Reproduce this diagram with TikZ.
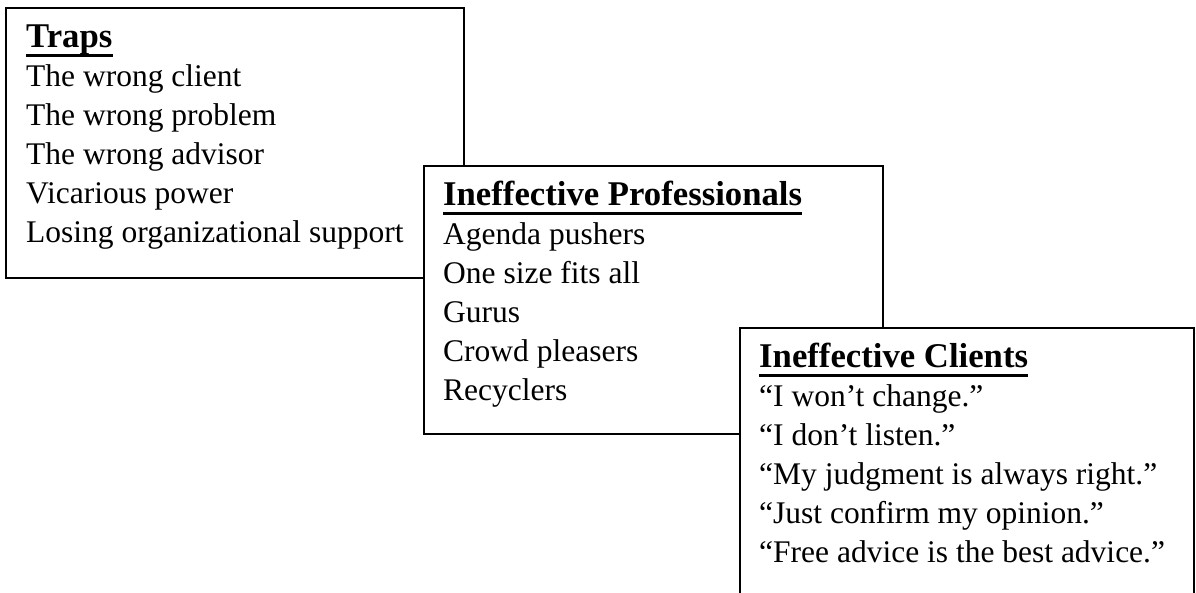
\documentclass[tikz,border=0pt]{standalone}
\usepackage{fontspec}
\setmainfont{Liberation Serif}
\begin{document}
\begin{tikzpicture}[x=1pt,y=-1pt,
  box/.style={draw=black,line width=1.6pt,fill=white,inner sep=0pt,anchor=north west},
  head/.style={inner sep=0pt,anchor=base west,font=\fontsize{34.7}{40}\selectfont\bfseries},
  item/.style={inner sep=0pt,anchor=base west,font=\fontsize{31.5}{39}\selectfont},
  uline/.style={line width=3pt}]
\useasboundingbox (0,0) rectangle (1196,592);
\clip (0,0) rectangle (1196,592);
\node[box,minimum width=458pt,minimum height=270pt] (b1) at (5,7) {};
\node[box,minimum width=459pt,minimum height=268pt] (b2) at (423,165) {};
\node[box,minimum width=454pt,minimum height=280pt] (b3) at (739,327) {};
% box 1
\node[head] (h1) at (26,47) {Traps};
\draw[uline] ([yshift=-8pt]h1.base west) -- ([yshift=-8pt]h1.base east);
\node[item] (a1) at (26,86) {The wrong client};
\node[item] (a2) at (26,125) {The wrong problem};
\node[item] (a3) at (26,164) {The wrong advisor};
\node[item] (a4) at (26,203) {Vicarious power};
\node[item] (a5) at (26,242) {Losing organizational support};
% box 2
\node[head] (h2) at (443,205) {Ineffective Professionals};
\draw[uline] ([yshift=-8pt]h2.base west) -- ([yshift=-8pt]h2.base east);
\node[item] (p1) at (443,244) {Agenda pushers};
\node[item] (p2) at (443,283) {One size fits all};
\node[item] (p3) at (443,322) {Gurus};
\node[item] (p4) at (443,361) {Crowd pleasers};
\node[item] (p5) at (443,400) {Recyclers};
% box 3
\node[head] (h3) at (759,367) {Ineffective Clients};
\draw[uline] ([yshift=-8pt]h3.base west) -- ([yshift=-8pt]h3.base east);
\node[item] (c1) at (759,406) {“I won’t change.”};
\node[item] (c2) at (759,445) {“I don’t listen.”};
\node[item] (c3) at (759,484) {“My judgment is always right.”};
\node[item] (c4) at (759,523) {“Just confirm my opinion.”};
\node[item] (c5) at (759,562) {“Free advice is the best advice.”};
\end{tikzpicture}
\end{document}
